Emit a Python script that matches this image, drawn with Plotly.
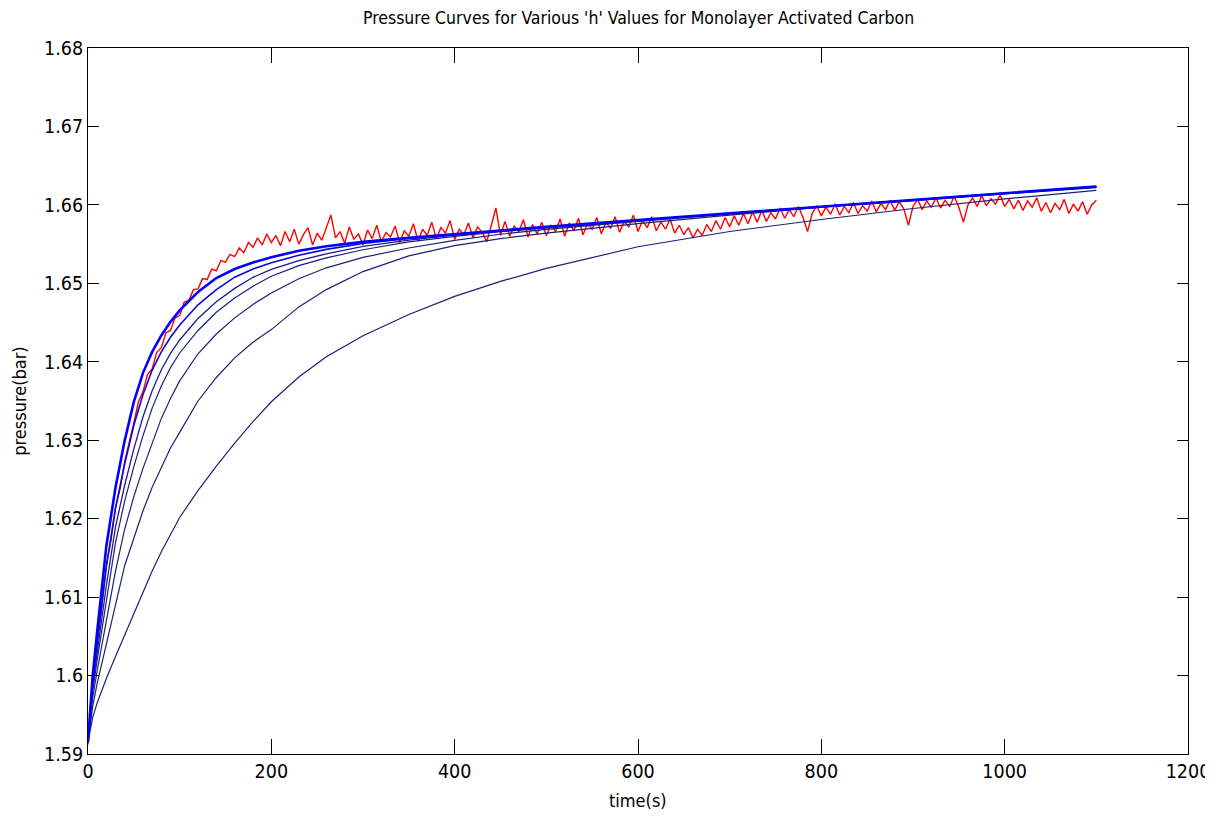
import plotly.graph_objects as go

# ---- data ----
t_model = [0, 5, 10, 15, 20, 30, 40, 50, 60, 70, 80, 90, 100, 120, 140, 160, 180, 200,
           230, 260, 300, 350, 400, 450, 500, 600, 700, 800, 900, 1000, 1100]

p_c1 = [1.5915, 1.59986, 1.60559, 1.61122, 1.61649, 1.62397, 1.62995, 1.63488, 1.63859, 1.64128,
        1.64336, 1.64509, 1.64656, 1.64890, 1.65068, 1.65183, 1.65265, 1.65333, 1.65415, 1.65473,
        1.65528, 1.65581, 1.65630, 1.65676, 1.65720, 1.65807, 1.65893, 1.65979, 1.66064, 1.66149, 1.66235]
p_c2 = [1.5915, 1.59909, 1.60411, 1.60899, 1.61384, 1.62135, 1.62696, 1.63190, 1.63583, 1.63894,
        1.64126, 1.64313, 1.64469, 1.64726, 1.64921, 1.65078, 1.65182, 1.65263, 1.65358, 1.65433,
        1.65507, 1.65573, 1.65623, 1.65672, 1.65716, 1.65805, 1.65892, 1.65978, 1.66063, 1.66149, 1.66234]
p_c3 = [1.5915, 1.59843, 1.60287, 1.60717, 1.61145, 1.61894, 1.62426, 1.62890, 1.63299, 1.63631,
        1.63898, 1.64108, 1.64278, 1.64551, 1.64766, 1.64936, 1.65077, 1.65177, 1.65291, 1.65377,
        1.65470, 1.65552, 1.65614, 1.65665, 1.65713, 1.65803, 1.65891, 1.65978, 1.66063, 1.66149, 1.66234]
p_c4 = [1.5915, 1.59795, 1.60200, 1.60587, 1.60969, 1.61694, 1.62225, 1.62663, 1.63058, 1.63409,
        1.63692, 1.63926, 1.64112, 1.64399, 1.64631, 1.64812, 1.64964, 1.65091, 1.65225, 1.65324,
        1.65428, 1.65528, 1.65598, 1.65658, 1.65707, 1.65800, 1.65889, 1.65976, 1.66062, 1.66148, 1.66234]
p_c5 = [1.5915, 1.59709, 1.60061, 1.60381, 1.60698, 1.61331, 1.61867, 1.62282, 1.62641, 1.62972,
        1.63278, 1.63533, 1.63756, 1.64102, 1.64354, 1.64560, 1.64731, 1.64876, 1.65059, 1.65198,
        1.65331, 1.65450, 1.65548, 1.65626, 1.65687, 1.65791, 1.65884, 1.65973, 1.66059, 1.66146, 1.66233]
p_c6 = [1.5915, 1.5960, 1.5990, 1.6015, 1.6040, 1.6090, 1.6140, 1.6175, 1.6210, 1.6240,
        1.6266, 1.6290, 1.6310, 1.6350, 1.6380, 1.6405, 1.6425, 1.6441, 1.6470, 1.6492,
        1.6515, 1.6535, 1.6548, 1.6557, 1.6564, 1.6576, 1.6587, 1.6597, 1.6605, 1.6614, 1.6622]
p_c7 = [1.5915, 1.59461, 1.59651, 1.59821, 1.59963, 1.60243, 1.60515, 1.60786, 1.61056, 1.61332,
        1.61578, 1.61806, 1.62015, 1.62358, 1.62670, 1.62964, 1.63237, 1.63490, 1.63805, 1.64063,
        1.64333, 1.64603, 1.64834, 1.65025, 1.65190, 1.65466, 1.65661, 1.65814, 1.65954, 1.66076, 1.66186]

t_exp = list(range(0, 1101, 5))
p_exp = [
    1.5912, 1.5988, 1.6043, 1.6087, 1.6141, 1.6172, 1.6214, 1.6238, 1.6273, 1.6296,
    1.6322, 1.6349, 1.6362, 1.6384, 1.6391, 1.6412, 1.6418, 1.6437, 1.6440, 1.6456,
    1.6459, 1.6476, 1.6478, 1.6492, 1.6493, 1.6506, 1.6505, 1.6518, 1.6516, 1.6529,
    1.6527, 1.6537, 1.6534, 1.6545, 1.6539, 1.6552, 1.6546, 1.6558, 1.6549, 1.6563,
    1.6552, 1.6561, 1.6548, 1.6566, 1.6553, 1.6569, 1.6550, 1.6562, 1.6571, 1.6549,
    1.6564, 1.6555, 1.6570, 1.6587, 1.6558, 1.6566, 1.6551, 1.6572, 1.6556, 1.6563,
    1.6549, 1.6568, 1.6557, 1.6574, 1.6553, 1.6565, 1.6559, 1.6573, 1.6552, 1.6567,
    1.6560, 1.6576, 1.6554, 1.6569, 1.6561, 1.6578, 1.6557, 1.6571, 1.6564, 1.6580,
    1.6556, 1.6569, 1.6562, 1.6577, 1.6558, 1.6572, 1.6565, 1.6553, 1.6574, 1.6596,
    1.6561, 1.6579, 1.6560, 1.6573, 1.6566, 1.6581, 1.6559, 1.6575, 1.6563, 1.6578,
    1.6561, 1.6574, 1.6566, 1.6582, 1.6560, 1.6577, 1.6567, 1.6583, 1.6562, 1.6576,
    1.6569, 1.6584, 1.6563, 1.6578, 1.6570, 1.6585, 1.6565, 1.6579, 1.6572, 1.6587,
    1.6566, 1.6580, 1.6571, 1.6585, 1.6567, 1.6578, 1.6569, 1.6582, 1.6564, 1.6574,
    1.6562, 1.6571, 1.6558, 1.6569, 1.6561, 1.6575, 1.6566, 1.6580, 1.6569, 1.6584,
    1.6572, 1.6586, 1.6574, 1.6589, 1.6576, 1.6591, 1.6578, 1.6593, 1.6579, 1.6590,
    1.6582, 1.6596, 1.6583, 1.6594, 1.6585, 1.6598, 1.6584, 1.6566, 1.6589, 1.6599,
    1.6586, 1.6597, 1.6588, 1.6601, 1.6587, 1.6598, 1.6590, 1.6603, 1.6589, 1.6599,
    1.6592, 1.6605, 1.6591, 1.6602, 1.6594, 1.6606, 1.6593, 1.6604, 1.6595, 1.6574,
    1.6598, 1.6607, 1.6594, 1.6605, 1.6597, 1.6609, 1.6596, 1.6606, 1.6598, 1.6611,
    1.6597, 1.6578, 1.6600, 1.6609, 1.6598, 1.6612, 1.6599, 1.6608, 1.6601, 1.6613,
    1.6598, 1.6607, 1.6595, 1.6606, 1.6593, 1.6605, 1.6597, 1.6609, 1.6592, 1.6603,
    1.6590, 1.6602, 1.6594, 1.6607, 1.6589, 1.6601, 1.6592, 1.6604, 1.6588, 1.6600,
    1.6606,
]

x_ticks = [0, 200, 400, 600, 800, 1000, 1200]
y_ticks = [1.59, 1.60, 1.61, 1.62, 1.63, 1.64, 1.65, 1.66, 1.67, 1.68]
y_tick_text = ["1.59", "1.6", "1.61", "1.62", "1.63", "1.64", "1.65", "1.66", "1.67", "1.68"]

title_text = "Pressure Curves for Various 'h' Values for Monolayer Activated Carbon"
x_label = "time(s)"
y_label = "pressure(bar)"

FONT = "DejaVu Sans Condensed, Liberation Sans Narrow, Arial Narrow, sans-serif"

fig = go.Figure()

fig.add_trace(go.Scatter(x=t_exp, y=p_exp, mode="lines",
                         line=dict(color="#ff0000", width=1.4), showlegend=False))

model_curves = [p_c7, p_c6, p_c5, p_c4, p_c3, p_c2, p_c1]
styles = [("#1e1e78", 1.2), ("#1e1e78", 1.2), ("#1e1e78", 1.2), ("#1e1e7e", 1.2),
          ("#1c1c90", 1.3), ("#0a0ad0", 1.6), ("#0000ff", 2.6)]
for yvals, (col, w) in zip(model_curves, styles):
    fig.add_trace(go.Scatter(x=t_model, y=yvals, mode="lines",
                             line=dict(color=col, width=w), showlegend=False))

axis_common = dict(showgrid=False, zeroline=False, showline=True, linecolor="black",
                   linewidth=1, mirror="ticks", ticks="inside", tickcolor="black",
                   tickwidth=1, automargin=False, ticklabeloverflow="allow",
                   tickfont=dict(family=FONT, size=19.5, color="black"))

fig.update_xaxes(range=[0, 1200], tickvals=x_ticks, ticktext=[str(v) for v in x_ticks],
                 ticklen=15, **axis_common)
fig.update_yaxes(range=[1.59, 1.68], tickvals=y_ticks, ticktext=y_tick_text,
                 ticklen=11, **axis_common)

# page body adds an 8px offset, so the figure is sized to fit inside the window
fig.update_layout(
    width=1203, height=809,
    margin=dict(l=80, r=23, t=40, b=63),
    paper_bgcolor="white", plot_bgcolor="white",
    showlegend=False,
    annotations=[
        dict(text=title_text, x=0.5, y=1.0425, xref="paper", yref="paper",
             xanchor="center", yanchor="middle", showarrow=False,
             font=dict(family=FONT, size=17.5, color="black")),
        dict(text=x_label, x=0.5, y=-0.066, xref="paper", yref="paper",
             xanchor="center", yanchor="middle", showarrow=False,
             font=dict(family=FONT, size=18, color="black")),
        dict(text=y_label, x=-0.063, y=0.5, xref="paper", yref="paper",
             xanchor="center", yanchor="middle", showarrow=False, textangle=-90,
             font=dict(family=FONT, size=18, color="black")),
    ],
)

fig.write_html("out.html")
